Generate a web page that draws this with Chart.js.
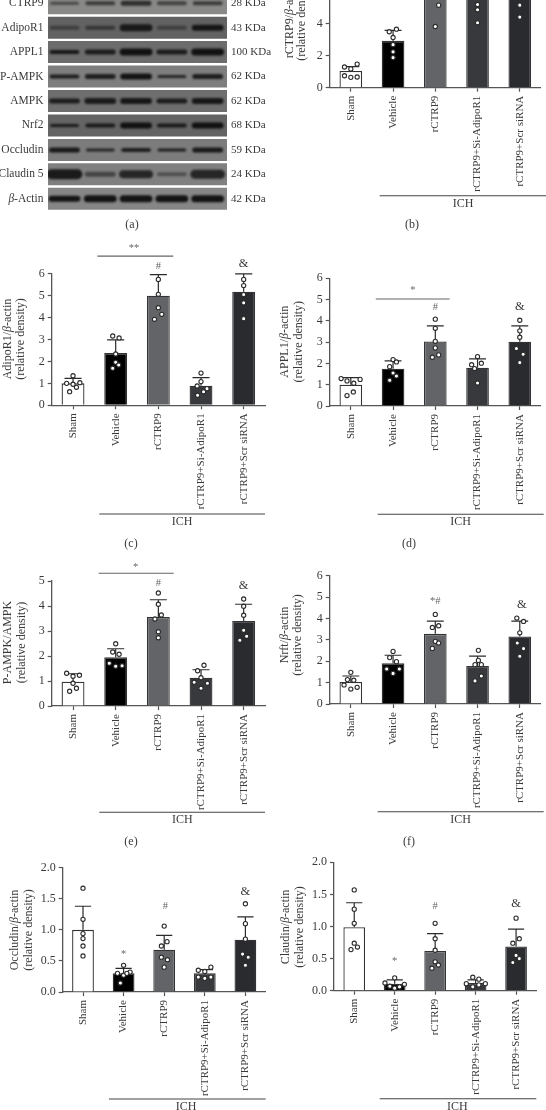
<!DOCTYPE html>
<html>
<head>
<meta charset="utf-8">
<title>rCTRP9 western blot densitometry</title>
<script src="https://cdn.jsdelivr.net/npm/chart.js@4"></script>
<style>
    html, body { margin: 0; padding: 0; background: #fff; }
    body { position: relative; width: 546px; height: 1110px; overflow: hidden; }
    canvas { position: absolute; }
</style>
</head>
<body>
<script>
// Treatment groups, same on every bar panel
const groups = ['Sham', 'Vehicle', 'rCTRP9', 'rCTRP9+Si-AdipoR1', 'rCTRP9+Scr siRNA'];

// (a) blot rows
const blotRows = ['CTRP9', 'AdipoR1', 'APPL1', 'P-AMPK', 'AMPK', 'Nrf2', 'Occludin', 'Claudin 5', 'β-Actin'];
const blotSizes = ['28 KDa', '43 KDa', '100 KDa', '62 KDa', '62 KDa', '68 KDa', '59 KDa', '24 KDa', '42 KDa'];
const blotGrays = ['#898987', '#626262', '#6c6c6c', '#7e7e7e', '#6e6e6e', '#646464', '#7c7c7c', '#808080', '#868686'];
const bandThickness = [
    [3, 4, 5, 4, 4], [4, 4, 7, 4, 6], [4, 5, 7, 5, 7],
    [4, 5, 6, 3, 5], [5, 6, 6, 5, 6], [3, 4, 6, 4, 6],
    [5, 3, 4, 3, 5], [10, 5, 8, 4, 9], [6, 7, 7, 7, 7]
];
const bandDarkness = [
    [.5, .6, .7, .55, .6], [.4, .5, .8, .4, .85], [.85, .8, .9, .8, .9],
    [.8, .8, .9, .75, .8], [.8, .8, .85, .8, .85], [.8, .8, .9, .8, .9],
    [.85, .75, .8, .8, .85], [.85, .5, .75, .4, .75], [.9, .9, .9, .9, .9]
];

// (b) rCTRP9 - upper part of this panel is cropped in the source
const ctrpMeans = [1.05, 2.94, 5.9, 5.9, 5.9];
const ctrpTops = [1.32, 3.6, 7, 7, 7];
const ctrpDots = [
    [1.30, 1.48, 1.18, .75, .65, .67], [3.51, 3.67, 3.15, 2.70, 2.25, 1.89],
    [5.18, 3.84, 5.8, 6.4, 6.9], [5.22, 4.89, 4.08, 5.8, 6.4], [5.18, 4.43, 6, 6.5, 7]
];
const ctrpJitter = [
    [-.15, .15, 0, -.15, 0, .15], [-.09, .08, 0, 0, 0, 0],
    [.08, 0, 0, 0, 0], [0, 0, 0, 0, 0], [0, 0, 0, 0, 0]
];

// (c) AdipoR1
const adipoMeans = [1.0, 2.38, 5.0, .89, 5.18];
const adipoTops = [1.23, 2.98, 5.96, 1.26, 5.99];
const adipoDots = [
    [1.35, 1.0, .96, 1.03, .82, .62], [3.16, 3.07, 2.34, 1.96, 1.84, 1.69],
    [5.74, 5.06, 4.45, 4.15, 3.92], [1.47, 1.08, .88, .76, .62, .46], [5.74, 5.46, 5.05, 4.67, 3.95]
];
const adipoJitter = [
    [0, -.15, 0, .16, .08, -.08], [-.07, .08, 0, 0, .07, -.07],
    [0, 0, 0, .08, -.09], [0, 0, -.09, .14, .06, -.08], [0, 0, 0, 0, 0]
];

// (d) APPL1
const applMeans = [1.0, 1.75, 3.03, 1.8, 3.02];
const applTops = [1.33, 2.12, 3.76, 2.21, 3.76];
const applDots = [
    [1.29, 1.18, 1.07, 1.25, .66, .49], [2.18, 2.07, 1.85, 1.55, 1.41, 1.21],
    [4.08, 3.65, 3.04, 2.73, 2.40, 2.29], [2.32, 1.94, 2.01, 1.76, 1.08], [4.03, 3.53, 3.23, 2.70, 2.43, 2.04]
];
const applJitter = [
    [-.23, -.09, .07, .22, .06, -.09], [0, .08, -.08, 0, .08, -.08],
    [0, 0, 0, 0, .08, -.07], [0, -.14, .09, -.07, 0], [0, 0, 0, -.08, .08, 0]
];

// (e) P-AMPK/AMPK
const ampkMeans = [.97, 1.95, 3.56, 1.13, 3.4];
const ampkTops = [1.29, 2.29, 4.25, 1.45, 4.07];
const ampkDots = [
    [1.31, 1.19, 1.23, .91, .71, .59], [2.49, 2.16, 2.07, 1.71, 1.59, 1.61],
    [4.52, 4.07, 3.64, 3.48, 2.97, 2.73], [1.63, 1.41, 1.13, .95, .91, .71], [4.28, 3.99, 3.63, 3.03, 2.79, 2.63]
];
const ampkJitter = [
    [-.15, 0, .15, 0, .08, -.08], [0, -.07, .08, -.15, 0, .15],
    [0, 0, .07, -.08, 0, 0], [.07, -.08, 0, -.16, .15, 0], [0, 0, 0, 0, .07, -.09]
];

// (f) Nrf2
const nrfMeans = [1.03, 1.9, 3.28, 1.78, 3.16];
const nrfTops = [1.31, 2.28, 3.88, 2.24, 3.88];
const nrfDots = [
    [1.48, 1.14, 1.11, .89, .78, .70], [2.46, 2.17, 1.98, 1.64, 1.64, 1.43],
    [4.19, 3.58, 3.66, 2.93, 2.85, 2.60], [2.51, 2.04, 1.84, 1.84, 1.31, 1.08], [4.02, 3.86, 3.33, 2.85, 2.59, 2.23]
];
const nrfJitter = [
    [0, -.08, .07, -.16, .15, 0], [0, -.08, .08, -.15, .15, 0],
    [0, -.07, .08, 0, .08, -.07], [.02, .02, -.06, .09, .09, -.06], [-.07, .09, 0, -.06, .09, 0]
];

// (g) Occludin
const occlMeans = [1.0, .3, .68, .3, .84];
const occlTops = [1.38, .38, .91, .36, 1.21];
const occlDots = [
    [1.67, 1.17, .94, .86, .74, .58], [.43, .30, .27, .32, .145, .30],
    [1.06, .81, .74, .56, .52, .40], [.35, .33, .40, .24, .22, .24], [1.42, 1.10, .85, .61, .56, .43]
];
const occlJitter = [
    [0, 0, 0, 0, 0, 0], [0, -.15, 0, .16, -.08, .08],
    [0, .07, -.07, -.07, .08, 0], [-.16, 0, .15, -.16, 0, .15], [0, 0, 0, -.07, .07, 0]
];

// (h) Claudin
const clauMeans = [.99, .11, .62, .12, .69];
const clauTops = [1.37, .17, .89, .17, .96];
const clauDots = [
    [1.57, 1.27, 1.05, .74, .68, .64], [.20, .12, .10, .07, .06, .04],
    [1.05, .81, .63, .45, .40, .35], [.21, .18, .11, .11, .09, .06], [1.13, .81, .74, .55, .50, .44]
];
const clauJitter = [
    [0, 0, 0, 0, .08, -.08], [0, -.24, .24, -.12, .12, 0],
    [0, 0, 0, 0, .08, -.08], [-.07, .08, -.23, .24, .08, -.07], [0, .08, -.08, 0, .08, -.08]
];

const fillColors = ['#ffffff', '#000000', '#636467', '#38393d', '#2a2b2e'];
const FONT = '"Liberation Serif", serif';
const INK = '#3a3a3a';

// draws one line of text centred on x,y, with the greek letter in italics
function mixedText(ctx, text, x, y, size, align) {
    const parts = text.split(/(β)/).filter(p => p);
    const fontOf = p => (p === 'β' ? 'italic ' : '') + size + 'px ' + FONT;
    let total = 0;
    parts.forEach(p => { ctx.font = fontOf(p); total += ctx.measureText(p).width; });
    let cx = x - total / 2;
    if (align === 'right') cx = x - total;
    if (align === 'left') cx = x;
    ctx.textAlign = 'left';
    ctx.textBaseline = 'middle';
    parts.forEach(p => {
        ctx.font = fontOf(p);
        ctx.fillText(p, cx, y);
        cx += ctx.measureText(p).width;
    });
}

function addCanvas(left, top, w, h) {
    const c = document.createElement('canvas');
    c.width = w;
    c.height = h;
    c.style.left = left + 'px';
    c.style.top = top + 'px';
    c.style.width = w + 'px';
    c.style.height = h + 'px';
    document.body.appendChild(c);
    return c;
}

// (a) the blot: strips and bands are thick lines on a lane/row scale
function makeBlot() {
    const top = -9, w = 273, h = 245;
    const datasets = [];
    blotRows.forEach(function(name, r) {
        bandThickness[r].forEach(function(t, lane) {
            datasets.push({
                data: [{x: lane + .1, y: r}, {x: lane + .82, y: r}],
                showLine: true, pointRadius: 0,
                borderColor: 'rgba(8,8,8,' + bandDarkness[r][lane] + ')',
                borderWidth: t, borderCapStyle: 'round', isBand: true
            });
        });
        datasets.push({
            data: [{x: 0, y: r}, {x: 5, y: r}],
            showLine: true, pointRadius: 0,
            borderColor: blotGrays[r], borderWidth: 22, borderCapStyle: 'butt', order: 5
        });
    });
    new Chart(addCanvas(0, top, w, h), {
        type: 'scatter',
        data: {datasets: datasets},
        options: {
            responsive: false, animation: false,
            layout: {padding: {left: 48, right: 46, top: 0, bottom: 25}},
            plugins: {legend: {display: false}, tooltip: {enabled: false}},
            scales: {
                x: {type: 'linear', min: 0, max: 5, display: false},
                y: {type: 'linear', min: -.5, max: 8.5, reverse: true, display: false}
            }
        },
        plugins: [{
            id: 'blotText',
            beforeDatasetDraw(chart, args) {
                chart.ctx.save();
                if (chart.data.datasets[args.index].isBand) chart.ctx.filter = 'blur(1.1px)';
            },
            afterDatasetDraw(chart) { chart.ctx.restore(); },
            afterDraw(chart) {
                const ctx = chart.ctx, y = chart.scales.y;
                ctx.save();
                ctx.fillStyle = INK;
                blotRows.forEach(function(name, r) {
                    mixedText(ctx, name, 43.5, y.getPixelForValue(r), 11.5, 'right');
                    mixedText(ctx, blotSizes[r], 231, y.getPixelForValue(r), 11, 'left');
                });
                mixedText(ctx, '(a)', 132, 225 - top, 12);
                ctx.restore();
            }
        }]
    });
}

// b-h: bars, error bars and dots for one panel. Box coordinates are page pixels.
function makePanel(p) {
    const x0 = p.x0, y0 = p.y0, w = 273, h = p.h;
    const a = p.area;
    const datasets = [];
    datasets.push({
        type: 'bar', data: p.means, xAxisID: 'x', yAxisID: 'y',
        backgroundColor: fillColors, borderColor: '#333336', borderWidth: 1.3,
        grouped: false, barPercentage: .67, order: 3
    });
    p.tops.forEach(function(t, i) {
        datasets.push({
            type: 'scatter', xAxisID: 'xd', yAxisID: 'y',
            data: [{x: i, y: p.means[i]}, {x: i, y: t}, {x: i - .2, y: t}, {x: i + .2, y: t}],
            showLine: true, pointRadius: 0, borderColor: '#2b2b2b', borderWidth: 1.2, order: 2, clip: false
        });
    });
    p.dots.forEach(function(vals, i) {
        datasets.push({
            type: 'scatter', xAxisID: 'xd', yAxisID: 'y',
            data: vals.map((v, k) => ({x: i + p.jitter[i][k], y: v})),
            pointRadius: 2.1, pointBorderWidth: 1.1,
            pointBackgroundColor: '#ffffff', pointBorderColor: '#2b2b2b', order: 1, clip: false
        });
    });
    new Chart(addCanvas(x0, y0, w, h), {
        data: {labels: groups, datasets: datasets},
        options: {
            responsive: false, animation: false,
            layout: {padding: {left: 0, right: x0 + w - a.r, top: a.t - y0, bottom: 0}},
            plugins: {legend: {display: false}, tooltip: {enabled: false}},
            scales: {
                x: {
                    type: 'category', offset: true,
                    grid: {drawOnChartArea: false, offset: false, tickLength: 4, tickWidth: 1.2, color: '#555'},
                    border: {color: '#555', width: 1.3},
                    ticks: {
                        minRotation: 90, maxRotation: 90, autoSkip: false, padding: 4,
                        color: INK, font: {family: FONT, size: 11}
                    },
                    afterFit(s) { s.height = y0 + h - a.b; }
                },
                xd: {type: 'linear', min: -.5, max: 4.5, display: false},
                y: {
                    type: 'linear', min: 0, max: p.max,
                    grid: {drawOnChartArea: false, tickLength: 4, tickWidth: 1.2, color: '#555'},
                    border: {color: '#555', width: 1.3},
                    ticks: {
                        stepSize: p.step, padding: 3, color: INK, font: {family: FONT, size: 12},
                        callback: v => p.step < 1 ? v.toFixed(1) : String(v)
                    },
                    afterFit(s) { s.width = a.l - x0; }
                }
            }
        },
        plugins: [{
            id: 'panelText',
            afterDraw(chart) {
                const ctx = chart.ctx, sx = chart.scales.xd, sy = chart.scales.y;
                ctx.save();
                ctx.fillStyle = INK;
                ctx.strokeStyle = '#444';
                ctx.lineWidth = 1.1;
                // y title, two rotated lines
                p.title.forEach(function(line, k) {
                    ctx.save();
                    ctx.translate(p.titleX[k] - x0, p.titleY - y0);
                    ctx.rotate(-Math.PI / 2);
                    mixedText(ctx, line, 0, 0, 12);
                    ctx.restore();
                });
                // ICH bracket under the labels
                ctx.beginPath();
                ctx.moveTo(p.ich[0] - x0, p.ich[2] - y0);
                ctx.lineTo(p.ich[1] - x0, p.ich[2] - y0);
                ctx.stroke();
                mixedText(ctx, 'ICH', p.ichX - x0, p.ich[2] + 8 - y0, 12);
                // significance line and marks, in data units
                if (p.sig) {
                    ctx.strokeStyle = '#666';
                    ctx.beginPath();
                    ctx.moveTo(sx.getPixelForValue(p.sig.from), sy.getPixelForValue(p.sig.y));
                    ctx.lineTo(sx.getPixelForValue(p.sig.to), sy.getPixelForValue(p.sig.y));
                    ctx.stroke();
                }
                p.marks.forEach(function(m) {
                    ctx.fillStyle = m.text === '&' ? INK : '#666';
                    mixedText(ctx, m.text, sx.getPixelForValue(m.x), sy.getPixelForValue(m.y), m.text === '&' ? 12.5 : 10.5);
                });
                ctx.fillStyle = INK;
                mixedText(ctx, p.caption, p.capX - x0, p.capY - y0, 12);
                ctx.restore();
            }
        }]
    });
}

makeBlot();

makePanel({
    x0: 273, y0: -50, h: 290, area: {l: 329.7, r: 543, t: -43.7, b: 87.7},
    means: ctrpMeans, tops: ctrpTops, dots: ctrpDots, jitter: ctrpJitter, max: 8, step: 2,
    title: ['rCTRP9/β-actin', '(relative density)'], titleX: [289.7, 302.3], titleY: 20,
    ich: [379.7, 546, 195.7], ichX: 463, marks: [],
    caption: '(b)', capX: 412, capY: 225
});
makePanel({
    x0: 0, y0: 235, h: 315, area: {l: 51.7, r: 265, t: 273.7, b: 405.3},
    means: adipoMeans, tops: adipoTops, dots: adipoDots, jitter: adipoJitter, max: 6, step: 1,
    title: ['AdipoR1/β-actin', '(relative density)'], titleX: [8, 21], titleY: 339,
    ich: [99.3, 265, 514], ichX: 182,
    sig: {from: .57, to: 2.35, y: 6.8},
    marks: [{x: 1.43, y: 7.16, text: '**'}, {x: 2, y: 6.35, text: '#'}, {x: 4, y: 6.47, text: '&'}],
    caption: '(c)', capX: 131, capY: 544
});
makePanel({
    x0: 273, y0: 235, h: 315, area: {l: 329.7, r: 543.7, t: 278.3, b: 406},
    means: applMeans, tops: applTops, dots: applDots, jitter: applJitter, max: 6, step: 1,
    title: ['APPL1/β-actin', '(relative density)'], titleX: [284.7, 298.7], titleY: 341.7,
    ich: [377.7, 543.7, 514.3], ichX: 460.7,
    sig: {from: .59, to: 2.34, y: 5.03},
    marks: [{x: 1.47, y: 5.45, text: '*'}, {x: 2, y: 4.62, text: '#'}, {x: 4, y: 4.65, text: '&'}],
    caption: '(d)', capX: 409, capY: 544
});
makePanel({
    x0: 0, y0: 535, h: 315, area: {l: 51.7, r: 265, t: 581, b: 706},
    means: ampkMeans, tops: ampkTops, dots: ampkDots, jitter: ampkJitter, max: 5, step: 1,
    title: ['P-AMPK/AMPK', '(relative density)'], titleX: [8, 22], titleY: 642.5,
    ich: [99.3, 265, 812.3], ichX: 182.3,
    sig: {from: .6, to: 2.36, y: 5.31},
    marks: [{x: 1.47, y: 5.57, text: '*'}, {x: 2, y: 4.93, text: '#'}, {x: 4, y: 4.83, text: '&'}],
    caption: '(e)', capX: 131, capY: 841.7
});
makePanel({
    x0: 273, y0: 535, h: 315, area: {l: 329.7, r: 543.7, t: 575.7, b: 704},
    means: nrfMeans, tops: nrfTops, dots: nrfDots, jitter: nrfJitter, max: 6, step: 1,
    title: ['Nrft/β-actin', '(relative density)'], titleX: [284.7, 298], titleY: 635,
    ich: [377.7, 543.7, 811.7], ichX: 460.7,
    marks: [{x: 2, y: 4.82, text: '*#'}, {x: 4.05, y: 4.66, text: '&'}],
    caption: '(f)', capX: 409, capY: 842
});
makePanel({
    x0: 0, y0: 850, h: 260, area: {l: 62.7, r: 265.7, t: 867.7, b: 992},
    means: occlMeans, tops: occlTops, dots: occlDots, jitter: occlJitter, max: 2, step: .5,
    title: ['Occludin/β-actin', '(relative density)'], titleX: [15, 29], titleY: 930,
    ich: [109, 265.7, 1099], ichX: 186,
    marks: [{x: 1, y: .61, text: '*'}, {x: 2.03, y: 1.38, text: '#'}, {x: 4, y: 1.62, text: '&'}],
    caption: '', capX: 0, capY: 0
});
makePanel({
    x0: 273, y0: 850, h: 260, area: {l: 334, r: 536.3, t: 862.3, b: 990.7},
    means: clauMeans, tops: clauTops, dots: clauDots, jitter: clauJitter, max: 2, step: .5,
    title: ['Claudin/β-actin', '(relative density)'], titleX: [285.7, 299.7], titleY: 927,
    ich: [379.7, 536.3, 1098.7], ichX: 457.3,
    marks: [{x: 1, y: .457, text: '*'}, {x: 2, y: 1.31, text: '#'}, {x: 4, y: 1.35, text: '&'}],
    caption: '', capX: 0, capY: 0
});
</script>
</body>
</html>
